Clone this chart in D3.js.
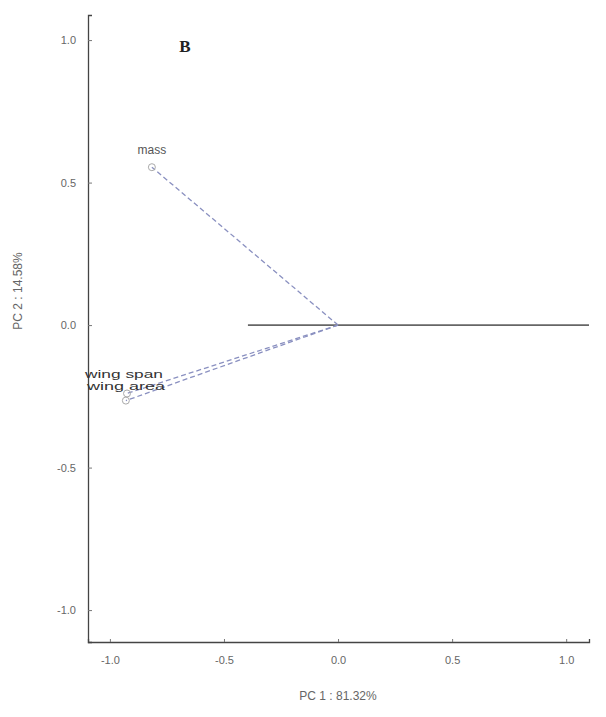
<!DOCTYPE html>
<html><head><meta charset="utf-8">
<script src="https://cdn.jsdelivr.net/npm/d3@7"></script>
<style>body{margin:0;background:#fff}svg{display:block}</style>
</head><body>
<script>
const variables = ["mass", "wing span", "wing area"];
const pc1Loadings = [-0.816, -0.925, -0.93];
const pc2Loadings = [0.554, -0.24, -0.265];
const xTicks = [-1.0, -0.5, 0.0, 0.5, 1.0];
const yTicks = [1.0, 0.5, 0.0, -0.5, -1.0];
const xLabel = "PC 1 : 81.32%";
const yLabel = "PC 2 : 14.58%";
const panelLetter = "B";
const refLine = [-0.395, 1.1];

const W = 606, H = 717;
const svg = d3.select("body").append("svg").attr("width", W).attr("height", H);
const x = d3.scaleLinear().domain([-1.096, 1.1]).range([88, 589]);
const y = d3.scaleLinear().domain([-1.112, 1.088]).range([642, 15]);
const fmt = d => d3.format(".1f")(d).replace("\u2212", "-");
const font = "Liberation Sans, Arial, sans-serif";

// axes
const xAxis = d3.axisBottom(x).tickValues(xTicks).tickSize(-3).tickPadding(14).tickFormat(fmt);
const gx = svg.append("g").attr("transform", `translate(0,${y(-1.112)})`).call(xAxis);
const yAxis = d3.axisLeft(y).tickValues(yTicks).tickSize(-4).tickPadding(12).tickFormat(fmt);
const gy = svg.append("g").attr("transform", `translate(${x(-1.096)},0)`).call(yAxis);
[gx, gy].forEach(g => {
  g.select(".domain").attr("stroke", "#444").attr("stroke-width", 1.3);
  g.selectAll(".tick line").attr("stroke", "#777");
  g.selectAll("text").attr("fill", "#666").attr("font-family", font).attr("font-size", 11);
});

// reference line at PC2 = 0
svg.append("line")
  .attr("x1", x(refLine[0])).attr("x2", x(refLine[1]))
  .attr("y1", y(0)).attr("y2", y(0))
  .attr("stroke", "#666").attr("stroke-width", 1.8);

// loading vectors
const data = variables.map((v, i) => ({v, px: pc1Loadings[i], py: pc2Loadings[i]}));
svg.selectAll("line.vec").data(data).enter().append("line").attr("class", "vec")
  .attr("x1", x(0)).attr("y1", y(0))
  .attr("x2", d => x(d.px)).attr("y2", d => y(d.py))
  .attr("stroke", "#8a90c0").attr("stroke-width", 1.3).attr("stroke-dasharray", "5,3");
svg.selectAll("circle.pt").data(data).enter().append("circle").attr("class", "pt")
  .attr("cx", d => x(d.px)).attr("cy", d => y(d.py)).attr("r", 3.5)
  .attr("fill", "none").attr("stroke", "#aaa").attr("stroke-width", 1);

// labels
svg.append("text").attr("x", x(pc1Loadings[0])).attr("y", y(pc2Loadings[0]) - 13)
  .attr("text-anchor", "middle").attr("font-family", font)
  .attr("font-size", 12).attr("fill", "#555").text(variables[0]);
svg.append("text").attr("x", 85).attr("y", 378)
  .attr("font-family", font).attr("font-size", 11)
  .attr("fill", "#333").attr("textLength", 78).attr("lengthAdjust", "spacingAndGlyphs")
  .text(variables[1]);
svg.append("text").attr("x", 87).attr("y", 390)
  .attr("font-family", font).attr("font-size", 11)
  .attr("fill", "#333").attr("textLength", 78).attr("lengthAdjust", "spacingAndGlyphs")
  .text(variables[2]);

// panel letter
svg.append("text").attr("x", 185).attr("y", 52).attr("text-anchor", "middle")
  .attr("font-family", "Liberation Serif, Times New Roman, serif").attr("font-weight", "bold")
  .attr("font-size", 17).attr("fill", "#222").text(panelLetter);

// axis titles
svg.append("text").attr("x", 338).attr("y", 700).attr("text-anchor", "middle")
  .attr("font-family", font).attr("font-size", 12).attr("fill", "#666").text(xLabel);
svg.append("text").attr("transform", "translate(22,291) rotate(-90)").attr("text-anchor", "middle")
  .attr("font-family", font).attr("font-size", 12).attr("fill", "#666").text(yLabel);
</script>
</body></html>
